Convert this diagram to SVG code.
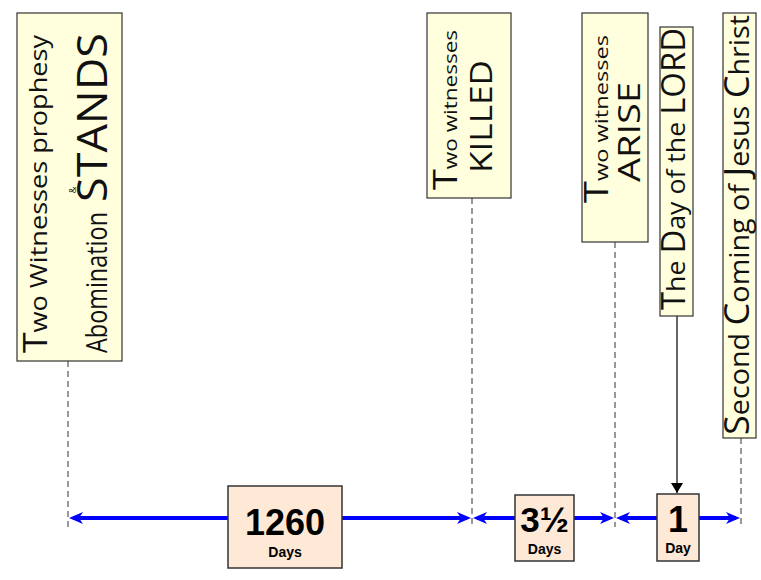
<svg xmlns="http://www.w3.org/2000/svg" width="761" height="580" viewBox="0 0 761 580">
<style>
.lbl{fill:#FFFFDD;stroke:#333;stroke-width:1.2}
.cnt{fill:#FDE9D5;stroke:#333;stroke-width:1.5}
.hw{font-family:"Open Sans","DejaVu Sans",sans-serif;font-weight:400;fill:#111}
.num{font-family:"Liberation Sans",Arial,sans-serif;font-weight:bold;fill:#000;text-anchor:middle}
.dash{stroke:#333;stroke-width:1;stroke-dasharray:6,4;fill:none}
.tl{stroke:#0000FF;stroke-width:4;fill:none;marker-start:url(#bh);marker-end:url(#bh)}
</style>
<defs>
<marker id="bh" viewBox="0 0 14 12" refX="10" refY="6" markerWidth="14" markerHeight="12" markerUnits="userSpaceOnUse" orient="auto-start-reverse">
<path d="M0,0 L14,6 L0,12 L4,6 z" fill="#0000FF"/>
</marker>
<marker id="ah" viewBox="0 0 10 12" refX="10" refY="6" markerWidth="10" markerHeight="12" markerUnits="userSpaceOnUse" orient="auto">
<path d="M0,0 L10,6 L0,12 z" fill="#000"/>
</marker>
</defs>
<g id="connectors">
<line class="dash" x1="68" y1="361" x2="68" y2="527"/>
<line class="dash" x1="472" y1="198" x2="472" y2="527"/>
<line class="dash" x1="615" y1="242" x2="615" y2="527"/>
<line class="dash" x1="741" y1="438" x2="741" y2="527"/>
<line stroke="#000" stroke-width="1.2" x1="677" y1="316" x2="677" y2="493" marker-end="url(#ah)"/>
<line class="tl" x1="73" y1="518" x2="467" y2="518"/>
<line class="tl" x1="477" y1="518" x2="610" y2="518"/>
<line class="tl" x1="620" y1="518" x2="736" y2="518"/>
</g>
<g id="n1">
<rect class="lbl" x="17" y="13" width="105" height="348"/>
<text class="hw" transform="translate(47,353) rotate(-90)" textLength="318" lengthAdjust="spacingAndGlyphs"><tspan font-size="33">T</tspan><tspan font-size="24">wo Witnesses prophesy</tspan></text>
<text class="hw" font-size="30" transform="translate(107,353) rotate(-90)" textLength="141" lengthAdjust="spacingAndGlyphs">Abomination</text>
<text class="hw" font-size="9" text-anchor="middle" transform="translate(76,190) rotate(-90)">&amp;</text>
<text class="hw" font-size="42" transform="translate(107,202) rotate(-90)" textLength="169" lengthAdjust="spacingAndGlyphs">STANDS</text>
</g>
<g id="n2">
<rect class="lbl" x="427" y="13" width="84" height="185"/>
<text class="hw" transform="translate(457,190) rotate(-90)" textLength="160" lengthAdjust="spacingAndGlyphs"><tspan font-size="32">T</tspan><tspan font-size="19">wo witnesses</tspan></text>
<text class="hw" font-size="31" transform="translate(492,173) rotate(-90)" textLength="113" lengthAdjust="spacingAndGlyphs">KILLED</text>
</g>
<g id="n3">
<rect class="lbl" x="582" y="13" width="66" height="229"/>
<text class="hw" transform="translate(608,203) rotate(-90)" textLength="168" lengthAdjust="spacingAndGlyphs"><tspan font-size="32">T</tspan><tspan font-size="19">wo witnesses</tspan></text>
<text class="hw" font-size="31" transform="translate(640,182) rotate(-90)" textLength="100" lengthAdjust="spacingAndGlyphs">ARISE</text>
</g>
<g id="n4">
<rect class="lbl" x="660" y="27" width="33" height="289"/>
<text class="hw" font-size="26" transform="translate(685,310) rotate(-90)" textLength="282" lengthAdjust="spacingAndGlyphs"><tspan font-size="32">T</tspan>he <tspan font-size="32">D</tspan>ay of the <tspan font-size="32">LORD</tspan></text>
</g>
<g id="n5">
<rect class="lbl" x="723" y="13" width="33" height="425"/>
<text class="hw" font-size="27" transform="translate(749,435) rotate(-90)" textLength="420" lengthAdjust="spacingAndGlyphs"><tspan font-size="34">S</tspan>econd <tspan font-size="34">C</tspan>oming of <tspan font-size="34">J</tspan>esus <tspan font-size="34">C</tspan>hrist</text>
</g>
<g id="c1">
<rect class="cnt" x="228" y="486" width="114" height="82"/>
<text class="num" x="285" y="535" font-size="36">1260</text>
<text class="num" x="285" y="557" font-size="14">Days</text>
</g>
<g id="c2">
<rect class="cnt" x="515" y="495" width="59" height="66"/>
<text class="num" x="544.5" y="532" font-size="35">3½</text>
<text class="num" x="544.5" y="554" font-size="14">Days</text>
</g>
<g id="c3">
<rect class="cnt" x="657" y="494" width="42" height="67"/>
<text class="num" x="678" y="532" font-size="36">1</text>
<text class="num" x="678" y="553" font-size="14">Day</text>
</g>
</svg>
